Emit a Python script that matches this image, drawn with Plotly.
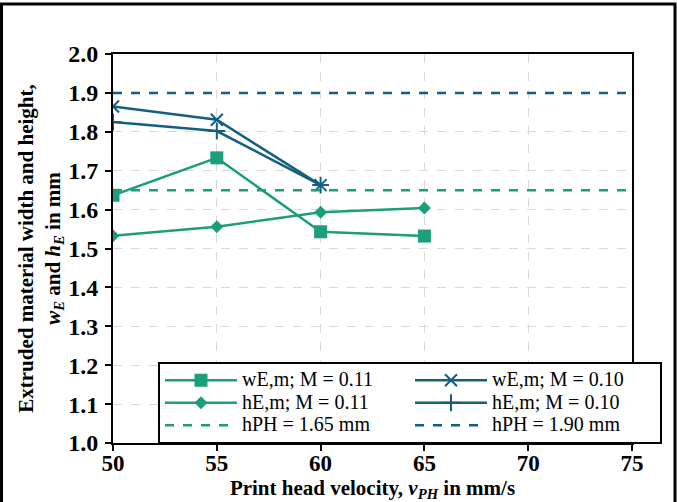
import plotly.graph_objects as go

velocity = [50, 55, 60, 65]
velocity_m010 = [50, 55, 60]
w_m011 = [1.637, 1.733, 1.543, 1.532]
h_m011 = [1.533, 1.556, 1.593, 1.604]
w_m010 = [1.865, 1.831, 1.663]
h_m010 = [1.825, 1.802, 1.663]
ref_x = [50, 75]
hph_165 = [1.65, 1.65]
hph_190 = [1.90, 1.90]
legend_names = ["wE,m; M = 0.11", "wE,m; M = 0.10", "hE,m; M = 0.11",
                "hE,m; M = 0.10", "hPH = 1.65 mm", "hPH = 1.90 mm"]

TEAL = "#1a9e7b"
BLUE = "#135f82"

def nm(i):
    return '<span style="font-size:20px">' + legend_names[i] + '</span>'

fig = go.Figure()
fig.add_trace(go.Scatter(x=velocity, y=w_m011, mode="lines+markers", name=nm(0),
                         line=dict(color=TEAL, width=2.5),
                         marker=dict(symbol="square", size=13, color=TEAL)))
fig.add_trace(go.Scatter(x=velocity_m010, y=w_m010, mode="lines+markers", name=nm(1),
                         line=dict(color=BLUE, width=2.5),
                         marker=dict(symbol="x-thin", size=12, color=BLUE, line=dict(color=BLUE, width=2))))
fig.add_trace(go.Scatter(x=velocity, y=h_m011, mode="lines+markers", name=nm(2),
                         line=dict(color=TEAL, width=2.5),
                         marker=dict(symbol="diamond", size=10, color=TEAL)))
fig.add_trace(go.Scatter(x=velocity_m010, y=h_m010, mode="lines+markers", name=nm(3),
                         line=dict(color=BLUE, width=2.5),
                         marker=dict(symbol="cross-thin", size=12, color=BLUE, line=dict(color=BLUE, width=2))))
fig.add_trace(go.Scatter(x=ref_x, y=hph_165, mode="lines", name=nm(4),
                         line=dict(color=TEAL, width=2.5, dash="dash")))
fig.add_trace(go.Scatter(x=ref_x, y=hph_190, mode="lines", name=nm(5),
                         line=dict(color=BLUE, width=2.5, dash="dash")))

W, H = 677, 502
L, R, T, B = 113, 45, 54, 59
pw, ph = W - L - R, H - T - B

def px_x(p):
    return (p - L) / pw

def px_y(p):
    return 1 - (p - T) / ph

fig.add_shape(type="rect", xref="paper", yref="paper",
              x0=px_x(1.5), x1=px_x(675), y0=px_y(520), y1=px_y(4),
              line=dict(color="black", width=3), fillcolor="rgba(0,0,0,0)", layer="above")

fig.update_layout(
    width=W, height=H,
    margin=dict(l=L, r=R, t=T, b=B),
    paper_bgcolor="white", plot_bgcolor="white",
    font=dict(family="Liberation Serif", color="black"),
    showlegend=True,
    legend=dict(orientation="h", x=px_x(158), y=px_y(444), xanchor="left", yanchor="bottom",
                entrywidth=163, entrywidthmode="pixels", itemwidth=72,
                bgcolor="white", bordercolor="black", borderwidth=2,
                font=dict(size=15, family="Liberation Serif", color="black"),
                tracegroupgap=0),
    xaxis=dict(range=[50, 75], dtick=5, tick0=50, automargin=False,
               showline=True, linecolor="black", linewidth=2, mirror=True,
               ticks="outside", ticklen=6, tickwidth=2, tickcolor="black",
               showgrid=True, gridcolor="#d9d9d9", griddash="dash", gridwidth=1,
               zeroline=False, ticklabelstandoff=-8,
               tickfont=dict(size=23, family="Liberation Serif", color="black", weight="bold"),
               title=dict(text="<b>Print head velocity, <i>v<sub>PH</sub></i> in mm/s</b>",
                          font=dict(size=21, family="Liberation Serif", color="black"), standoff=0)),
    yaxis=dict(range=[1.0, 2.0], dtick=0.1, tick0=1.0, tickformat=".1f", automargin=False,
               showline=True, linecolor="black", linewidth=2, mirror=True,
               ticks="outside", ticklen=6, tickwidth=2, tickcolor="black",
               showgrid=True, gridcolor="#d9d9d9", griddash="dash", gridwidth=1,
               zeroline=False, ticklabelstandoff=2,
               tickfont=dict(size=24, family="Liberation Serif", color="black", weight="bold"),
               title=dict(text="<b>Extruded material width and height,<br><i>w<sub>E</sub></i> and <i>h<sub>E</sub></i> in mm</b>",
                          font=dict(size=21, family="Liberation Serif", color="black"), standoff=2)),
)

fig.write_html("out.html")
